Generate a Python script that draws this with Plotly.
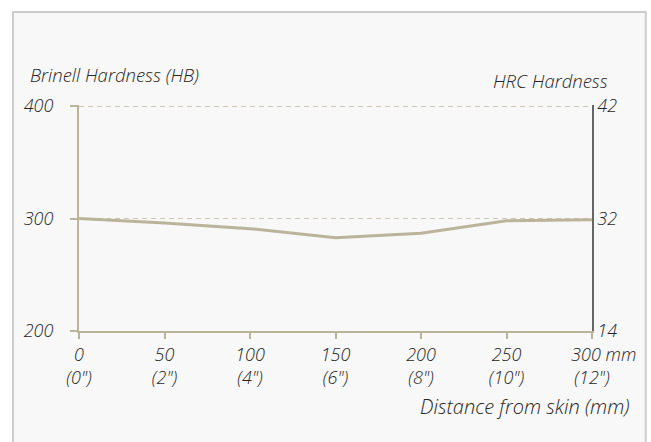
import plotly.graph_objects as go

# Data
distance_mm = [0, 50, 100, 150, 200, 250, 300]
hardness_hb = [300, 296, 291, 283, 287, 298, 299]
x_tick_labels = ['0<br>(0")', '50<br>(2")', '100<br>(4")', '150<br>(6")',
                 '200<br>(8")', '250<br>(10")',
                 '\u00a0\u00a0\u00a0\u00a0\u00a0300 mm<br>(12")']
hb_ticks = [200, 300, 400]
hb_tick_labels = ["200", "300", "400"]
hrc_tick_labels = ["14", "32", "42"]

TAN = "#bcb39b"
GRID = "#cdc6b4"
TXT = "#262626"
FONT = "Open Sans"

fig = go.Figure()
fig.add_trace(go.Scatter(
    x=distance_mm, y=hardness_hb, mode="lines",
    line=dict(color=TAN, width=3), hoverinfo="skip", showlegend=False,
))
# same series referenced on the HRC axis so that axis is rendered
fig.add_trace(go.Scatter(
    x=distance_mm, y=hardness_hb, mode="lines", yaxis="y2",
    line=dict(color="rgba(0,0,0,0)", width=0), hoverinfo="skip", showlegend=False,
))

tickfont = dict(family=FONT, size=18, color=TXT, style="italic", weight=300)
titlefont = dict(family=FONT, size=18.5, color=TXT, style="italic", weight=300)

fig.update_layout(
    width=651, height=442,
    margin=dict(l=79, r=59, t=105, b=111),
    paper_bgcolor="white",
    plot_bgcolor="rgba(0,0,0,0)",
    showlegend=False,
    xaxis=dict(
        range=[0, 300], tickvals=distance_mm, ticktext=x_tick_labels,
        showline=True, linecolor=TAN, linewidth=2,
        ticks="outside", ticklen=6, tickcolor=TAN, tickwidth=1.5,
        showgrid=False, zeroline=False, tickfont=tickfont,
        ticklabelstandoff=0,
    ),
    yaxis=dict(
        range=[200, 401], tickvals=hb_ticks, ticktext=hb_tick_labels,
        showline=True, linecolor=TAN, linewidth=2,
        ticks="outside", ticklen=7, tickcolor=TAN, tickwidth=1.5,
        showgrid=True, gridcolor=GRID, griddash="5px,4px", gridwidth=1,
        zeroline=False, tickfont=tickfont, ticklabelstandoff=13,
    ),
    yaxis2=dict(
        range=[200, 401], tickvals=hb_ticks, ticktext=hrc_tick_labels,
        overlaying="y", side="right", anchor="x",
        showline=True, linecolor="#666666", linewidth=1.5,
        ticks="", showgrid=False, zeroline=False, tickfont=tickfont,
    ),
    shapes=[dict(
        type="rect", xref="paper", yref="paper", layer="below",
        x0=-0.1287, x1=1.1048, y0=-0.6, y1=1.4115,
        fillcolor="#f8f8f8", line=dict(color="#cccccc", width=2),
    )],
    annotations=[
        dict(text="Brinell Hardness (HB)", xref="paper", yref="paper",
             x=-0.0994, y=1.133, xanchor="left", yanchor="middle", showarrow=False,
             font=titlefont),
        dict(text="HRC Hardness", xref="paper", yref="paper",
             x=1.035, y=1.11, xanchor="right", yanchor="middle", showarrow=False,
             font=titlefont),
        dict(text="Distance from skin (mm)", xref="paper", yref="paper",
             x=1.078, y=-0.336, xanchor="right", yanchor="middle", showarrow=False,
             font=dict(family=FONT, size=20, color=TXT, style="italic", weight=300)),
    ],
)

fig.write_html("out.html",
               config={"displayModeBar": False},
               post_script="document.body.style.margin='0';document.body.style.overflow='hidden';")
